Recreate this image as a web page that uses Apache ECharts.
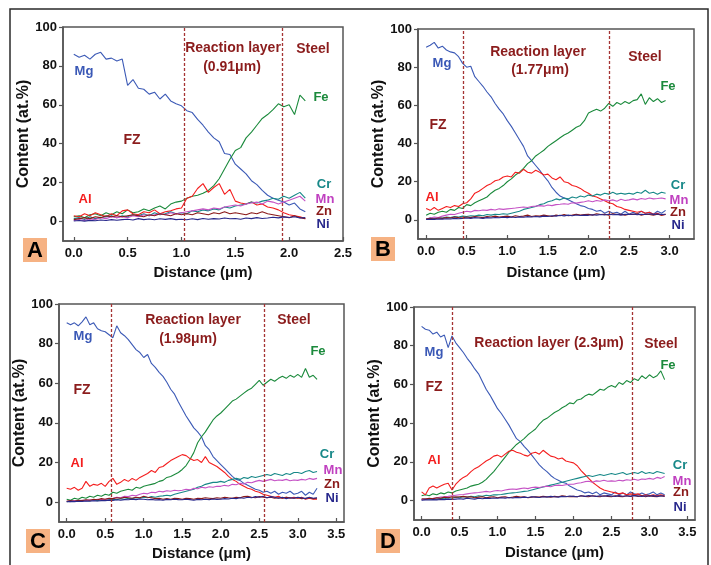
<!DOCTYPE html>
<html><head><meta charset="utf-8">
<script src="https://cdn.jsdelivr.net/npm/echarts@6/dist/echarts.min.js"></script>
<style>html,body{margin:0;padding:0;background:#fff}#c{width:711px;height:565px}</style>
</head><body><div id="c"></div>
<script>
// ---------------- data ----------------
const elements = ['Mg', 'Fe', 'Al', 'Cr', 'Mn', 'Zn', 'Ni'];
const sampleStep = 0.05; // µm between successive line-scan samples
const xTickValues = [0, 0.5, 1.0, 1.5, 2.0, 2.5, 3.0, 3.5];
const yTickValues = [0, 20, 40, 60, 80, 100];
const panelLetters = ['A', 'B', 'C', 'D'];
const layerThickness = ['0.91', '1.77', '1.98', '2.3'];
const boundariesA = [1.03, 1.94];
const boundariesB = [0.46, 2.25];
const boundariesC = [0.58, 2.56];
const boundariesD = [0.40, 2.77];

// Panel A (x = 0 .. 2.15)
const aMg = [86,84.5,85.5,83.5,86,87,83.5,84,82.5,83.5, 70,73,68.5,68,65.5,66.5,63,65.5,62,60.5, 59.5,57,56,52.5,49.5,46,43,41,35,34.5, 29.5,27,24.5,21,19,16,13.5,12,11,10, 8.5,9.5,6.5,5];
const aFe = [2.5,3,2,3.5,4,3,4.5,3.5,5,4, 6,4.5,5,6.5,5.5,7,8,6.5,9,10, 10.5,12,13,13.5,14.5,16,18.5,22,27,32, 36.5,38,43,46,49.5,53,55,57.5,60.5,59, 60,55,65,62];
const aAl = [3,2.5,4,3,4.5,3.5,2.5,4,3,5.5, 6,4,3.5,5,4.5,6,4,5,5.5,6.5, 7,12,13,17,19.5,15,17.5,19.5,14,16.5, 10.5,9.5,9,10,8.5,9,7.5,7,6,4.5, 3.5,3,2.5,1.5];
const aCr = [1.5,2,1,2.5,1.5,2,2.5,3,2,3, 2.5,3.5,3,4,3,4.5,3.5,4,5,4, 4.5,4,5.5,5,6,5.5,6.5,6,7.5,7, 8,8.5,9,10,9.5,10.5,11,12,11.5,13, 12,13.5,15,12];
const aMn = [0.5,1,0.5,1.5,1,2,1.5,2.5,2,2.5, 2,3,2.5,3.5,3,3.5,4,3.5,4.5,4, 4.5,5,5.5,6,6.5,6,7,6.5,7.5,8, 8.5,8,9,9.5,10,9,10.5,10,9,10, 11,12,13,10.5];
const aZn = [1,1.5,2,1.5,2.5,2,3,2.5,3,2.5, 3,3.5,3,2.5,3.5,3,4,3.5,3,4, 3.5,4,3.5,4.5,4,3.5,4.5,4,5,4, 4.5,4,3.5,4.5,4,5,4,3.5,3,2.5, 2,3,2,1.5];
const aNi = [0.3,0.5,0.2,0.6,0.4,0.8,0.5,1,0.7,1, 1.2,0.8,1.5,1,1.3,0.9,1.4,1.1,1.5,1, 1.2,0.9,1.4,1,1.6,1.2,1.5,1.3,1.8,1.4, 1.6,1.2,1.8,1.5,2,1.6,1.8,2.2,1.9,2.4, 2.1,2.5,1.8,2];

// Panel B (x = 0 .. 2.95)
const bMg = [90.5,91.5,93,90,91,89,88,87.5,85.5,82, 80,80.5,75,72.5,70,67,64.5,61,58,55.5, 52,49,45.5,42,38.5,33.5,31,28.5,26,23, 20.5,17,14.5,12.5,11.5,10.5,9.5,8.5,7.5,7, 6,5.5,4.5,5,3.5,4.5,3.5,4,3,4.5, 3,4,3,4.5,3.5,4,3,4.5,3.5,5];
const bFe = [2.5,3.5,3,4,4.5,4,5.5,5,6.5,6, 8,7.5,9,10,11,12,14,15.5,16.5,18, 20,21.5,23.5,25,27,29.5,31,33.5,35,36.5, 38.5,40,41.5,43,44.5,45.5,47,48.5,49.5,52, 56,57,58,57,58.5,61,59.5,61.5,60.5,62, 61,62.5,63,66,60.5,64,62,63.5,61.5,62.5];
const bAl = [6,5,6.5,5,6,7,6.5,7.5,7,8.5, 9,11,14,15,16.5,18,19,20.5,21,22.5, 23,22.5,25,24.5,26.5,25,24.5,26,25,23.5, 24,22,21,22.5,20,19.5,18,17.5,16.5,15, 14,12.5,12,11,10,9,8.5,7,6.5,5.5, 5,4.5,4,4.5,3.5,4,3,3.5,2.5,3];
const bCr = [0.5,1,0.8,1.2,1,1.5,1.2,1.8,1.5,2, 1.8,2.2,2,2.5,2.2,2.8,2.5,3,2.8,3.2, 3,3.5,4,4.5,5.5,6,6.5,7,8,8.5, 9.5,10,11,10.5,11.5,11,12,11.5,12.5,12, 13,12.5,13.5,13,14,13.5,14.5,13.5,14,13.5, 14,13.5,14.5,14,15.5,14,14.5,13.5,14.5,14];
const bMn = [0.5,1,1.5,1.2,2,2.5,3,2.8,3.5,4, 4.5,4.2,5,4.8,5.2,5,5.5,5.2,5.8,5.5, 5.8,6,6.2,6.5,6.8,6.5,7,7.2,7.5,7.2, 7.8,7.5,8,8.2,8.5,8.2,9,8.8,9.2,9.5, 10,9.5,10.2,9.8,10.5,10,10.5,9.8,10.8,10.2, 10.5,11,10.5,11.2,10.8,11.5,11,11.2,11.5,11];
const bZn = [0.5,0.8,0.5,1,0.8,1.2,1,1.5,1.2,1, 1.5,1.2,1.8,1.5,1.2,1.8,1.5,2,1.5,1.8, 2,1.5,2.2,1.8,2,2.5,1.8,2.2,2,2.5, 2.2,1.8,2.5,2.2,2.8,2.2,2.5,3,2.5,2.8, 3,2.5,3.2,2.8,3,2.5,3.2,2.8,3,2.5, 3,2.8,3.2,2.5,3,2.8,2.5,3,2.5,2.8];
const bNi = [0.2,0.4,0.3,0.5,0.4,0.6,0.5,0.8,0.6,0.8, 1,0.8,1.2,1,0.8,1.2,1,1.3,1.1,1.4, 1.2,1.5,1.3,1.6,1.4,1.7,1.5,1.8,1.6,2, 1.8,2.2,2,2.4,2.1,2.5,2.2,2.6,2.3,2.5, 2.4,2.7,2.5,2.8,2.6,3,2.7,2.9,2.5,3, 2.8,3.1,2.7,3,2.8,3.2,2.9,3.1,2.8,3];

// Panel C (x = 0 .. 3.25)
const cMg = [90.5,89.5,90.5,89,91,93.5,89.5,90.5,87.5,86.5, 86,84.5,83,89,85.5,84,82,79.5,77,75.5, 73,74.5,70,68,65.5,63.5,60.5,57,54.5,50.5, 47,43.5,40.5,37.5,35.5,33,28.5,26.5,23,21, 19,17,15,13,11.5,11,9.5,8.5,7.5,6.5, 6,5,5.5,4.5,5.5,4,5,4.5,5.5,4, 4.5,5.5,3.5,5,4,7];
const cFe = [1.5,1,2,1.5,2.5,2,3,2.5,3.5,3, 4,3.5,5,4.5,5.5,6,6.5,6,7.5,7, 8,8.5,9,9.5,10.5,11,12.5,13,14,15, 16.5,18.5,21.5,25,30,33,35.5,38.5,41.5,43.5, 45,47,49,51,52,53.5,55,56.5,57.5,59.5, 61.5,59,60.5,62,61,62.5,63.5,62.5,64,63, 64.5,63,67.5,63,64,62];
const cAl = [7,6.5,7.5,6,7,10.5,8,9,8.5,9.5, 8,10.5,12,9,10,11.5,10.5,12,11,12.5, 13.5,14.5,16,15,17.5,18,19.5,21,22,23, 24,23.5,22,21,21.5,20,23,20,19,18, 16.5,15,13,11.5,10.5,9,8,7,6.5,5.5, 5,4,3.5,3,2.5,3,2,2.5,2,2.5, 2,2.5,1.5,2,1.5,1.5];
const cCr = [0.3,0.5,0.4,0.8,0.6,0.9,0.7,1,0.8,1.2, 1,1.3,1.5,1.2,1.8,1.5,2,1.8,2.2,2, 2.5,2.2,2.8,2.5,3,3.2,3.5,3.2,4,4.5, 5,5.5,6,6.5,7.5,8,9,9.5,10,10, 10.5,10,11,11.5,12,11.5,12.5,12,13,12.5, 13,13.5,14,13.5,14.5,14,13.5,14.5,14,15, 15,14.5,15.5,16,15,15.5];
const cMn = [0.5,0.3,0.8,0.5,1,0.8,1.2,1,1.5,1.3, 1.5,1.8,2,2.5,2.2,3,2.8,3.5,3.2,4, 4.5,4.2,5,4.8,5.5,5.2,5.8,5.5,6,5.8, 6,6.5,6.2,7,6.8,7.5,7.2,7.8,7.5,8, 8,8.5,8.2,9,8.8,9.5,9.2,10,9.8,10.5, 11,10.5,11,11.5,10.8,11.2,11,11.5,10.8,11.2, 11,11.5,11.2,12,11.5,12];
const cZn = [0.5,0.8,0.5,1,0.8,1.2,1,1.5,1.2,1.8, 1.5,2,1.8,2.2,2,2.5,2.2,2,2.5,2.2, 3,2.5,2.2,1.8,2,1.5,1.8,1.5,2,1.8, 1.5,2,1.8,1.5,2,1.8,2.2,2,1.8,2.2, 2,2.5,2.2,2,2.5,2.2,2.8,3,2.5,2.2, 2.8,2.5,2.2,2.5,2,2.2,2,2.5,2.2,2, 2.2,1.8,2,2.2,1.8,2];
const cNi = [0.2,0.4,0.3,0.5,0.4,0.6,0.5,0.7,0.6,0.8, 0.8,1,0.9,1.2,1,1.3,1.2,1.5,1.3,1.6, 1.5,1.2,1.4,1.1,1.3,1,1.4,1.2,1.5,1.3, 1.2,1.5,1.3,1,1.4,1.2,1.5,1.3,1.6,1.4, 1.5,1.8,1.6,2,1.8,2.2,2,2.5,2.2,2.8, 2.5,3,2.2,2.8,2.5,2,2.5,1.8,2.2,2, 2.5,2.2,1.8,2.5,2,2.2];

// Panel D (x = 0 .. 3.2)
const dMg = [90,88.5,88,86,87,84.5,85.5,79,85,81.5, 79,76.5,73.5,71,68,65.5,61.5,57.5,54.5,51, 47.5,45,42,39,35.5,32,30.5,28,26,23.5, 21,18.5,16.5,15,13,11.5,10.5,9.5,9,7.5, 6.5,5.5,5,4,4.5,3.5,4.5,3,4,3.5, 3,4.5,3,4,3,4.5,3.5,3,4,3, 3.5,4.5,3,4,3];
const dFe = [2.5,3,2.5,3.5,3,4,3.5,4.5,4,5, 5.5,6,6.5,7.5,8,8.5,9.5,11,13,15, 17.5,20,22.5,25,27,29,30.5,32,34,35.5, 37,39.5,41.5,42.5,44,45.5,46.5,48,49,50.5, 50,52,52.5,54,55,54.5,56,57.5,57,58.5, 59.5,58.5,61,60,62,61,63,62,64.5,63, 65,63.5,64.5,67,62.5];
const dAl = [4.5,3,6.5,7.5,6.5,7.5,8.5,9,5.5,8.5, 10.5,12,13,15,16.5,17.5,19,20.5,21.5,23, 23.5,22.5,24,25.5,26,25,24.5,23.5,23,24.5, 25,24,26,24.5,23,22.5,21.5,22,20.5,20, 19.5,18,15.5,13.5,11.5,9.5,8,6.5,5.5,5, 4.5,4,3.5,4,3,3.5,3,3.5,2.5,3, 2.5,3,2.5,3,2.5];
const dCr = [0.5,0.8,0.6,1,0.8,1.2,1,1.5,1.2,1.8, 1.5,2,1.8,2.2,2,2.5,2.2,2.8,2.5,3, 3,3.2,3.5,3.8,4,4.2,4.5,4.8,5,5.5, 6,6.5,7,7.5,8,8.5,9,9.5,10,10.5, 11,11.5,12,12.5,13,12.5,13,13.5,13,13.5, 14,13.5,14,14.5,13.5,14,14.5,14,15,14, 14.5,14,15,14.5,14];
const dMn = [0.5,0.8,1,1.2,1.5,1.8,2,2.2,2.5,2.8, 3,3.2,3.5,3.8,4,4.2,4.5,4.8,4.5,5, 5.2,5,5.5,5.8,6,5.8,6.2,6.5,6.2,6.8, 7,6.8,7.2,7.5,7.2,7.8,8,7.8,8.2,8.5, 8.5,9,9.2,9.8,10,9.5,10.2,10,10.5,10, 10.2,10,10.5,10.2,10.8,10.5,11,10.5,11.2,11, 11.5,11,12,11.5,12.5];
const dZn = [1,0.8,1.2,1,1.5,1.2,1.8,1.5,2,1.8, 2,2.2,1.8,2,1.5,1.8,2,1.5,1.8,2, 1.5,1.8,2,1.5,1.8,2.2,1.8,2,1.5,1.8, 2,1.8,2.2,2,1.8,2.2,2,2.5,2.2,2, 2.2,2,2.5,2.2,2,2.5,2.2,2,2.5,2.2, 2,2.5,2.2,2,2.5,2.2,2.8,2.2,2.5,2, 2.5,2.2,2,2.5,2.2];
const dNi = [0.2,0.4,0.3,0.5,0.4,0.6,0.5,0.8,0.6,0.8, 1,0.8,1.2,1,0.8,1.2,1,1.3,1.1,1.4, 1.2,1.5,1.3,1.6,1.4,1.7,1.5,1.8,1.6,2, 1.8,1.6,2,1.8,2.2,2,1.8,2.2,2,2.4, 2.2,2,2.5,2.2,2.6,2.4,2.2,2.5,2.3,2.6, 2.4,2.2,2.6,2.3,2.5,2.2,2.6,2.4,2.2,2.5, 2.3,2.6,2.2,2.5,2.3];

// ---------------- styling / layout ----------------
const FONT = '"Liberation Sans", Arial, sans-serif';
const DARKRED = '#8b1c1c';
const lineColors = { Mg: '#3c5ab6', Fe: '#1b8a3c', Al: '#f41e1e', Cr: '#178888', Mn: '#c552c5', Zn: '#8b1a1a', Ni: '#28288c' };
const labelColors = { Mg: '#3a58b6', Fe: '#1b8a3c', Al: '#f41e1e', Cr: '#178888', Mn: '#c040c0', Zn: '#8b1a1a', Ni: '#28288c' };

const panels = [
  { grid: { left: 63, top: 27, width: 280, height: 214 }, xMax: 2.5, series: [aMg, aFe, aAl, aCr, aMn, aZn, aNi], bounds: boundariesA, yGap: 26, xGap: 24,
    box: [23, 238], texts: { rl: [233, 48], th: [232, 67], steel: [313, 49], fz: [132, 140], Mg: [84, 71], Fe: [321, 97], Al: [85, 199], Cr: [324, 184], Mn: [325, 199], Zn: [324, 211], Ni: [323, 224] } },
  { grid: { left: 418, top: 29, width: 276, height: 210 }, xMax: 3.3, series: [bMg, bFe, bAl, bCr, bMn, bZn, bNi], bounds: boundariesB, yGap: 27, xGap: 26,
    box: [371, 237], texts: { rl: [538, 52], th: [540, 70], steel: [645, 57], fz: [438, 125], Mg: [442, 63], Fe: [668, 86], Al: [432, 197], Cr: [678, 185], Mn: [679, 200], Zn: [678, 212], Ni: [678, 225] } },
  { grid: { left: 59, top: 304, width: 285, height: 218 }, xMax: 3.6, series: [cMg, cFe, cAl, cCr, cMn, cZn, cNi], bounds: boundariesC, yGap: 27, xGap: 24,
    box: [26, 529], texts: { rl: [193, 320], th: [188, 339], steel: [294, 320], fz: [82, 390], Mg: [83, 336], Fe: [318, 351], Al: [77, 463], Cr: [327, 454], Mn: [333, 470], Zn: [332, 484], Ni: [332, 498] } },
  { grid: { left: 414, top: 307, width: 281, height: 213 }, xMax: 3.6, series: [dMg, dFe, dAl, dCr, dMn, dZn, dNi], bounds: boundariesD, yGap: 28, xGap: 25,
    box: [376, 529], texts: { rl: [549, 343], th: null, steel: [661, 344], fz: [434, 387], Mg: [434, 352], Fe: [668, 365], Al: [434, 460], Cr: [680, 465], Mn: [682, 481], Zn: [681, 492], Ni: [680, 507] } }
];

const grids = [], xAxes = [], yAxes = [], series = [], graphics = [];

// outer frame
graphics.push({ type: 'rect', shape: { x: 10, y: 9, width: 698, height: 600 }, style: { fill: 'none', stroke: '#2a2a2a', lineWidth: 1.5 }, silent: true });

panels.forEach((p, i) => {
  grids.push(Object.assign({ show: true, borderColor: '#555', borderWidth: 1.5, backgroundColor: 'transparent' }, p.grid));
  const xt = xTickValues.filter(v => v <= p.xMax + 1e-9);
  xAxes.push({
    gridIndex: i, type: 'value', min: -0.1, max: p.xMax,
    axisLine: { show: true, onZero: false, lineStyle: { color: '#555', width: 1.5 } },
    axisTick: { show: true, inside: true, length: 4, customValues: xt, lineStyle: { color: '#555', width: 1.2 } },
    axisLabel: { customValues: xt, formatter: v => v.toFixed(1), fontFamily: FONT, fontWeight: 'bold', fontSize: 13, color: '#111', margin: 6 },
    splitLine: { show: false },
    name: 'Distance (μm)', nameLocation: 'middle', nameGap: p.xGap,
    nameTextStyle: { fontFamily: FONT, fontWeight: 'bold', fontSize: 15, color: '#111' }
  });
  yAxes.push({
    gridIndex: i, type: 'value', min: -10, max: 100,
    axisLine: { show: true, onZero: false, lineStyle: { color: '#555', width: 1.5 } },
    axisTick: { show: true, inside: false, length: 4, customValues: yTickValues, lineStyle: { color: '#555', width: 1.2 } },
    axisLabel: { customValues: yTickValues, fontFamily: FONT, fontWeight: 'bold', fontSize: 13, color: '#111', margin: 6 },
    splitLine: { show: false },
    name: 'Content (at.%)', nameLocation: 'middle', nameGap: p.yGap,
    nameTextStyle: { fontFamily: FONT, fontWeight: 'bold', fontSize: 16, color: '#111' }
  });
  elements.forEach((el, k) => {
    const s = {
      type: 'line', name: panelLetters[i] + '-' + el, xAxisIndex: i, yAxisIndex: i,
      data: p.series[k].map((v, j) => [+(j * sampleStep).toFixed(2), v]),
      showSymbol: false, symbol: 'none', silent: true, animation: false,
      lineStyle: { width: 1.1, color: lineColors[el] }, itemStyle: { color: lineColors[el] }, z: 3
    };
    if (k === 0) {
      s.markLine = {
        silent: true, symbol: ['none', 'none'], label: { show: false }, animation: false,
        lineStyle: { type: [3, 2], color: '#a53434', width: 1.3 },
        data: p.bounds.map(b => ({ xAxis: b }))
      };
    }
    series.push(s);
  });

  // panel letter box
  graphics.push({ type: 'rect', shape: { x: p.box[0], y: p.box[1], width: 24, height: 24 }, style: { fill: '#f6b283' }, silent: true });
  graphics.push({ type: 'text', x: p.box[0] + 12, y: p.box[1] + 13, style: { text: panelLetters[i], fill: '#000', font: 'bold 22px ' + FONT, textAlign: 'center', textVerticalAlign: 'middle' }, silent: true });

  const t = p.texts;
  const addText = (pos, text, color, size) => graphics.push({ type: 'text', x: pos[0], y: pos[1], z: 10,
    style: { text, fill: color, font: 'bold ' + size + 'px ' + FONT, textAlign: 'center', textVerticalAlign: 'middle' }, silent: true });
  if (t.th) {
    addText(t.rl, 'Reaction layer', DARKRED, 14);
    addText(t.th, '(' + layerThickness[i] + 'μm)', DARKRED, 14);
  } else {
    addText(t.rl, 'Reaction layer (' + layerThickness[i] + 'μm)', DARKRED, 14);
  }
  addText(t.steel, 'Steel', DARKRED, 14);
  addText(t.fz, 'FZ', DARKRED, 14);
  elements.forEach(el => addText(t[el], el, labelColors[el], 13));
});

const chart = echarts.init(document.getElementById('c'), null, { renderer: 'canvas' });
chart.setOption({
  backgroundColor: '#fff', animation: false,
  grid: grids, xAxis: xAxes, yAxis: yAxes, series: series, graphic: graphics
});
</script></body></html>
